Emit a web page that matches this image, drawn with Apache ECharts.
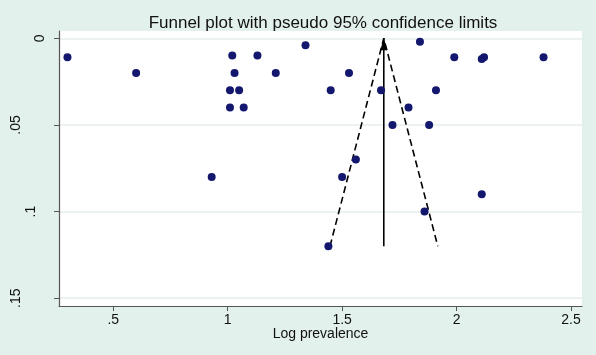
<!DOCTYPE html>
<html>
<head>
<meta charset="utf-8">
<script src="https://cdn.jsdelivr.net/npm/echarts@6/dist/echarts.min.js"></script>
<style>
  html, body { margin: 0; padding: 0; background: #e3f1ed; }
  #funnel { width: 596px; height: 355px; }
</style>
</head>
<body>
<div id="funnel"></div>
<script>
// study estimates: log prevalence vs standard error
var logPrev = [0.30, 0.60, 1.02, 1.13, 1.03, 1.21, 1.01, 1.05, 1.01, 1.07, 0.93,
               1.34, 1.84, 1.99, 2.11, 2.12, 2.38, 1.53, 1.45, 1.67, 1.91, 1.79,
               1.72, 1.88, 1.56, 1.50, 2.11, 1.86, 1.44];
var seVals = [0.011, 0.020, 0.010, 0.010, 0.020, 0.020, 0.030, 0.030, 0.040, 0.040, 0.080,
              0.004, 0.002, 0.011, 0.012, 0.011, 0.011, 0.020, 0.030, 0.030, 0.030, 0.040,
              0.050, 0.050, 0.070, 0.080, 0.090, 0.100, 0.120];

// pooled estimate line and pseudo 95% limits
var pooledX = [1.682, 1.682];
var pooledY = [0.12, 0];
var limitX = [1.447, 1.682, 1.918];
var limitY = [0.12, 0, 0.12];

var xTicks = [0.5, 1, 1.5, 2, 2.5];
var xTickLabels = ['.5', '1', '1.5', '2', '2.5'];
var yTicks = [0, 0.05, 0.1, 0.15];
var yTickLabels = ['0', '.05', '.1', '.15'];
var yLabelKeys = ['a', 'b', 'c', 'b'];

var font = 'Liberation Sans, Arial, sans-serif';

function zip(xs, ys) {
	return xs.map(function (x, i) { return [x, ys[i]]; });
}

var myChart = echarts.init(document.getElementById('funnel'), null, { renderer: 'canvas' });

var option = {
	backgroundColor: '#e3f1ed',
	animation: false,
	title: {
		text: 'Funnel plot with pseudo 95% confidence limits',
		left: 318,
		textAlign: 'center',
		top: 10,
		textStyle: { fontFamily: font, fontSize: 17, fontWeight: 'normal', color: '#111' }
	},
	grid: {
		left: 59, right: 14, top: 31, bottom: 49,
		show: true, backgroundColor: '#ffffff', borderWidth: 0
	},
	xAxis: {
		type: 'value',
		min: 0.263,
		max: 2.548,
		name: 'Log prevalence',
		nameLocation: 'middle',
		nameGap: 21,
		nameMoveOverlap: false,
		nameTextStyle: { fontFamily: font, fontSize: 14, color: '#111' },
		axisLine: { onZero: false, lineStyle: { color: '#555', width: 1.2 } },
		axisTick: { show: true, length: 5, customValues: xTicks, lineStyle: { color: '#555' } },
		axisLabel: {
			customValues: xTicks,
			margin: 7,
			fontFamily: font, fontSize: 14, color: '#111',
			formatter: function (v) { return xTickLabels[xTicks.indexOf(v)]; }
		},
		splitLine: { show: false }
	},
	yAxis: {
		type: 'value',
		inverse: true,
		min: -0.0042,
		max: 0.1545,
		axisLine: { onZero: false, lineStyle: { color: '#555', width: 1.2 } },
		axisTick: { show: true, length: 5, customValues: yTicks, lineStyle: { color: '#555' } },
		axisLabel: {
			customValues: yTicks,
			rotate: 90,
			margin: 12,
			fontFamily: font, fontSize: 14, color: '#111',
			formatter: function (v) {
				var i = yTicks.indexOf(v);
				return '{' + yLabelKeys[i] + '|' + yTickLabels[i] + '}';
			},
			rich: {
				a: { fontFamily: font, fontSize: 14, color: '#111', padding: [0, 0, 0, 0] },
				b: { fontFamily: font, fontSize: 14, color: '#111', padding: [0, 0, 24, 0] },
				c: { fontFamily: font, fontSize: 14, color: '#111', padding: [0, 0, 9, 0] }
			}
		},
		splitLine: { show: true, lineStyle: { color: '#e6eeee', width: 1.5 } }
	},
	series: [
		{
			name: 'limits',
			type: 'line',
			data: zip(limitX, limitY),
			symbol: 'none',
			lineStyle: { color: '#000', width: 1.6, type: [7, 4] },
			z: 2
		},
		{
			name: 'pooled',
			type: 'line',
			data: zip(pooledX, pooledY),
			symbol: 'none',
			lineStyle: { color: '#000', width: 1.6 },
			z: 2
		},
		{
			name: 'arrow',
			type: 'scatter',
			data: [[pooledX[1], pooledY[1]]],
			symbol: 'triangle',
			symbolSize: [7, 12],
			symbolOffset: [0, '50%'],
			itemStyle: { color: '#000', opacity: 1 },
			z: 3
		},
		{
			name: 'studies',
			type: 'scatter',
			data: zip(logPrev, seVals),
			symbol: 'circle',
			symbolSize: 8,
			itemStyle: { color: '#13176e', opacity: 1 },
			z: 4
		}
	]
};

myChart.setOption(option);
</script>
</body>
</html>
